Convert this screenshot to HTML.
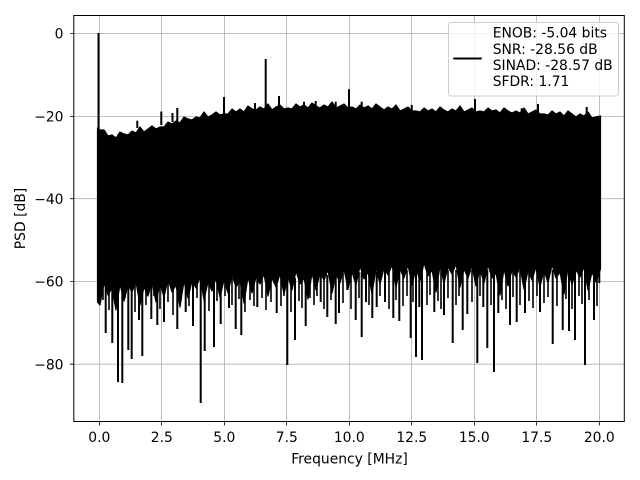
<!DOCTYPE html>
<html><head><meta charset="utf-8"><style>
html,body{margin:0;padding:0;background:#fff;}
svg{display:block;}
text{font-family:"DejaVu Sans","Liberation Sans",sans-serif;font-size:13.89px;fill:#000;}
</style></head><body>
<svg width="640" height="480" viewBox="0 0 640 480" xmlns="http://www.w3.org/2000/svg">
<rect x="0" y="0" width="640" height="480" fill="#fff"/>
<!-- grid -->
<g stroke="#b0b0b0" stroke-width="0.8" fill="none">
<path d="M99.5 15V422M161.5 15V422M224.5 15V422M286.5 15V422M349.5 15V422M411.5 15V422M474.5 15V422M536.5 15V422M599.5 15V422"/>
<path d="M74 33.5H624M74 116.5H624M74 198.7H624M74 281.4H624M74 364.2H624"/>
</g>
<!-- data body -->
<polygon fill="#000" stroke="#000" stroke-width="1.2" stroke-linejoin="round" points="97.5,128 100,130 104,130 108,136 112,135 116,138 120,132 124,134 128,135 132,131 136,133 140,127 144,132 148,129 152,126 156,129 160,127 164,127 168,122 172,124 176,121 180,123 184,117 188,119 192,120 196,117 200,118 204,112 208,117 212,115 216,112 220,115 224,114 228,114 232,109 236,112 240,109 244,112 248,106 252,109 256,110 260,107 264,109 268,104 272,110 276,107 280,105 284,109 288,108 292,109 296,104 300,107 304,105 308,108 312,103 316,106 320,108 324,105 328,107 332,102 336,108 340,106 344,104 348,108 352,107 356,109 360,105 364,108 368,106 372,109 376,104 380,107 384,110 388,107 392,109 396,105 400,111 404,109 408,107 412,111 416,111 420,112 424,108 428,111 432,109 436,112 440,107 444,110 448,112 452,109 456,111 460,106 464,112 468,110 472,108 476,112 480,111 484,112 488,108 492,111 496,110 500,113 504,108 508,111 512,113 516,111 520,113 524,108 528,114 532,112 536,110 540,114 544,114 548,115 552,111 556,114 560,112 564,116 568,111 572,114 576,117 580,114 584,116 588,112 592,118 596,117 600.5,116 600.5,269 596,282 592,272 588,290 584,267 580,277 576,270 572,285 568,268 564,294 560,272 556,278 552,265 548,283 544,270 540,287 536,267 532,280 528,271 524,289 520,267 516,277 512,270 508,286 504,269 500,295 496,273 492,278 488,265 484,283 480,269 476,286 472,266 468,278 464,269 460,287 456,264 452,274 448,267 444,283 440,266 436,292 432,270 428,276 424,263 420,281 416,268 412,285 408,265 404,278 400,269 396,287 392,265 388,275 384,268 380,284 376,268 372,294 368,272 364,279 360,266 356,285 352,272 348,289 344,269 340,283 336,274 332,293 328,270 324,280 320,273 316,290 312,273 308,299 304,278 300,284 296,271 292,290 288,277 284,294 280,274 276,287 272,278 268,296 264,274 260,284 256,277 252,293 248,277 244,303 240,281 236,287 232,275 228,293 224,280 220,297 216,278 212,291 208,282 204,300 200,277 196,288 192,281 188,298 184,281 180,307 176,285 172,292 168,279 164,297 160,284 156,302 152,282 148,296 144,287 140,305 136,282 132,292 128,285 124,301 120,284 116,310 112,288 108,295 104,283 100,305 97.5,302"/>
<!-- DC spike -->
<path d="M98.5 300V33" stroke="#000" stroke-width="2" fill="none"/>
<!-- downward spikes -->
<path stroke="#000" stroke-width="2" fill="none" d="M105.7 285V333M112.3 285V343M118 285V382M122.3 285V383M128.3 285V350M131.7 285V359M139 285V320M142.3 285V356M151.3 285V319M157.3 285V325M164 285V322M177.3 280V329M185.7 280V312M193 280V326M200.7 280V403M204.7 280V351M214 280V347M220.7 280V324M229 280V308M235.7 280V329M241.3 280V335M257.3 278V307M276.7 278V313M287.3 278V365M295 278V340M305.7 278V326M320.7 275V302M327.3 275V317M335.7 275V324M339 275V313M347.3 275V290M355.7 272V320M361.7 272V337M366 272V302M372.3 272V318M376.7 272V307M385 270V302M393.3 270V318M399.3 270V321M410.7 270V338M416 270V357M419.3 270V307M422 270V360M434.3 270V312M444 270V315M452.7 270V343M462.7 270V330M467.3 270V314M477.3 270V363M483.3 270V307M487.3 270V348M494 270V372M498.3 270V313M510 270V325M516.7 270V322M525 270V313M540 270V312M552.7 270V344M562.7 270V330M569 270V331M575 270V340M585 270V365M594 270V320M599.3 270V283"/>
<!-- extra mid-depth spikes -->
<path stroke="#000" stroke-width="1.6" fill="none" d="M103 280V300M109 280V310M115 280V304M125 280V298M135 280V312M146 280V305M154 280V296M160 280V309M168 280V302M173 280V315M181 280V300M189 280V306M197 280V298M209 278V311M217 278V301M225 278V296M232 278V305M239 278V299M245 278V312M250 278V300M254 278V306M262 276V298M266 276V310M271 276V302M281 276V306M284 276V296M291 276V312M299 276V301M302 276V308M310 274V298M314 274V305M317 274V296M324 274V309M331 274V300M343 272V303M351 272V309M359 272V298M369 272V305M380 270V296M389 270V309M396 270V300M403 270V306M407 270V296M413 270V302M427 270V305M430 270V295M438 270V301M441 270V309M448 270V298M456 270V305M459 270V296M472 270V302M480 270V296M491 270V305M502 270V300M506 270V309M513 270V297M520 270V305M529 270V301M533 270V308M537 270V296M544 270V303M548 270V297M557 270V306M566 270V299M572 270V309M579 270V296M582 270V304M589 270V300M597 270V306"/>
<!-- upward spikes -->
<path stroke="#000" stroke-width="2" fill="none" d="M137.3 128V120.7M161.3 125V111.5M172.5 122V113M177.3 122V108M224 115V97M255 112V103M265.7 112V59M279 110V96M304 108V101.7M315.7 108V101M335.7 108V101.7M349 108V89.3M361.7 108V101.7M411.7 111V105M475 112V99M521.7 113V108.3M538 113V104M586.7 116V107"/>
<!-- spines -->
<rect x="73.8" y="15.5" width="550.5" height="406" fill="none" stroke="#000" stroke-width="1"/>
<!-- ticks -->
<g stroke="#000" stroke-width="0.8">
<path d="M99.5 422V425.5M161.5 422V425.5M224.5 422V425.5M286.5 422V425.5M349.5 422V425.5M411.5 422V425.5M474.5 422V425.5M536.5 422V425.5M599.5 422V425.5"/>
<path d="M73.5 33.5H70M73.5 116.5H70M73.5 198.7H70M73.5 281.4H70M73.5 364.2H70"/>
</g>
<!-- tick labels -->
<g text-anchor="middle">
<text x="99.3" y="442">0.0</text>
<text x="161.8" y="442">2.5</text>
<text x="224.3" y="442">5.0</text>
<text x="286.8" y="442">7.5</text>
<text x="349.3" y="442">10.0</text>
<text x="411.8" y="442">12.5</text>
<text x="474.3" y="442">15.0</text>
<text x="536.8" y="442">17.5</text>
<text x="599.3" y="442">20.0</text>
</g>
<g text-anchor="end">
<text x="63.5" y="38.5">0</text>
<text x="63.5" y="121.5">−20</text>
<text x="63.5" y="204">−40</text>
<text x="63.5" y="286.6">−60</text>
<text x="63.5" y="369.3">−80</text>
</g>
<text x="349.5" y="463.3" text-anchor="middle">Frequency [MHz]</text>
<text transform="translate(25,218.5) rotate(-90)" text-anchor="middle">PSD [dB]</text>
<!-- legend -->
<rect x="448.5" y="22.5" width="170" height="73.5" rx="2.5" ry="2.5" fill="#fff" fill-opacity="0.8" stroke="#cccccc" stroke-width="1"/>
<path d="M453.3 58.5H481.7" stroke="#000" stroke-width="2"/>
<text x="492.7" y="37.7">ENOB: -5.04 bits</text>
<text x="492.7" y="54">SNR: -28.56 dB</text>
<text x="492.7" y="70">SINAD: -28.57 dB</text>
<text x="492.7" y="86">SFDR: 1.71</text>
</svg>
</body></html>
